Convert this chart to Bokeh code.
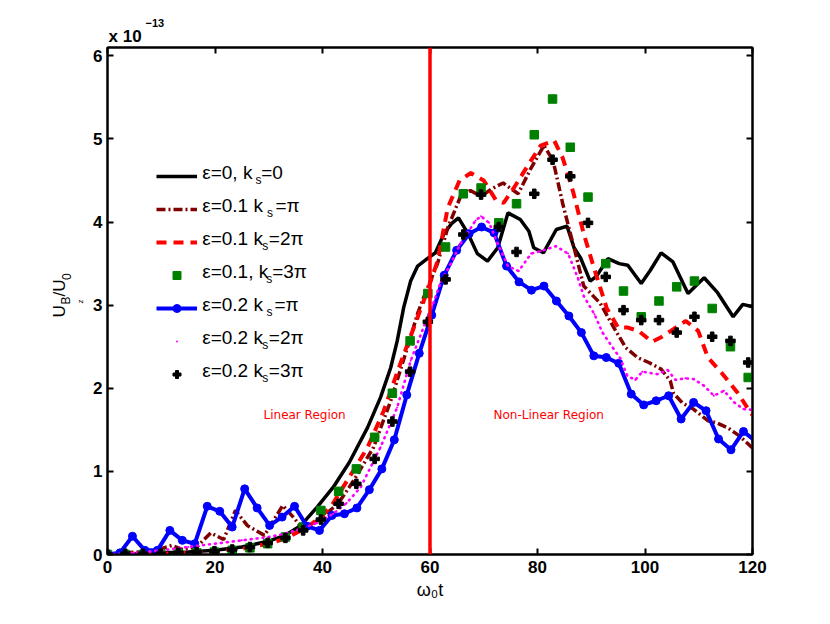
import math
from bokeh.plotting import figure
from bokeh.models import (Range1d, LinearAxis, FixedTicker, Span, Label, Legend,
                          LegendItem, CustomJSTickFormatter)
from bokeh.embed import file_html
from bokeh.resources import INLINE

# ---------------- data (values in units of 1e-13) ----------------
# eps=0, ks=0  (black solid)
t_e0 = [0, 5, 10, 15, 20, 25, 30, 33, 36, 39, 42, 45, 48.4, 50.8, 52.7, 53.9, 55.1,
        56.4, 57.7, 59.5, 61, 62.6, 64, 65.3, 67, 68.8, 70.7, 72.6, 74.5, 76.8, 78.4,
        79.3, 81.1, 83.5, 85.5, 86.8, 88, 89.8, 91, 93.1, 95.2, 96.8, 99.3, 101, 103,
        105.2, 108, 111, 113.5, 116.4, 118.2, 120]
u_e0 = [0, 0.01, 0.02, 0.03, 0.05, 0.09, 0.16, 0.23, 0.35, 0.57, 0.81, 1.11, 1.53, 1.89,
        2.25, 2.57, 2.97, 3.29, 3.47, 3.56, 3.63, 3.86, 3.98, 4.05, 3.87, 3.62, 3.53,
        3.69, 4.11, 4.03, 3.89, 3.69, 3.63, 3.91, 3.95, 3.69, 3.57, 3.29, 3.35, 3.56,
        3.50, 3.48, 3.26, 3.42, 3.63, 3.52, 3.14, 3.33, 3.15, 2.86, 3.01, 2.98]

# eps=0.1, ks=pi  (dark red dash-dot)
t_e01_k1 = [0, 3, 6, 9, 12, 14, 16.6, 19.2, 21.6, 23.8, 26, 29.2, 32.6, 34.7, 36, 38, 40,
            43, 45.8, 49.5, 52.7, 55.8, 57.7, 58.8, 61.4, 63.3, 65.7, 67.5, 69.5, 71.5,
            73.6, 76.4, 78.8, 81.2, 82.9, 84.7, 86.8, 88.6, 91.7, 94.2, 96.4, 98.6, 100.7,
            103, 104.7, 105.3, 107, 109, 111.7, 113.5, 115.5, 117.5, 119.2, 120]
u_e01_k1 = [0, 0.02, 0.03, 0.05, 0.11, 0.06, 0.09, 0.26, 0.18, 0.53, 0.35, 0.23, 0.59,
            0.44, 0.33, 0.36, 0.45, 0.62, 0.89, 1.29, 1.85, 2.49, 2.9, 3.09, 3.5, 3.93,
            4.31, 4.38, 4.31, 4.4, 4.47, 4.34, 4.65, 4.92, 4.74, 4.22, 3.69, 3.23, 3.02,
            2.73, 2.49, 2.37, 2.31, 2.23, 2.09, 1.94, 1.82, 1.75, 1.61, 1.58, 1.52, 1.43,
            1.33, 1.28]

# eps=0.1, ks=2pi  (red dashed)
t_e01_k2 = [0, 5, 10, 15, 20, 25, 30, 33, 36, 38, 40, 42, 44.6, 48.4, 51.4, 54.5, 57,
            59.5, 61.4, 63.3, 65.5, 67.6, 70, 72.3, 73.7, 75.6, 78.2, 80.6, 83.1, 84.7,
            86.6, 88.6, 90.5, 92.9, 95, 96.8, 98.8, 101.3, 102.9, 104.8, 107.6, 109.9,
            111.7, 114.2, 117.3, 119.7, 120]
u_e01_k2 = [0, 0.01, 0.01, 0.02, 0.04, 0.07, 0.13, 0.19, 0.29, 0.37, 0.47, 0.62, 0.89,
            1.29, 1.73, 2.3, 2.73, 3.17, 3.53, 4.17, 4.5, 4.59, 4.5, 4.26, 4.23, 4.41,
            4.68, 4.92, 4.98, 4.77, 4.37, 3.86, 3.45, 2.96, 2.73, 2.73, 2.69, 2.56, 2.61,
            2.69, 2.81, 2.69, 2.37, 2.19, 1.94, 1.70, 1.68]

# sample times of the marker-only series
t_markers = [0, 3.3, 6.6, 9.9, 13.2, 16.6, 19.9, 23.2, 26.5, 29.8, 33.1, 36.4, 39.7, 43.0,
             46.3, 49.7, 53.0, 56.3, 59.6, 62.9, 66.2, 69.5, 72.8, 76.1, 79.4, 82.8, 86.1,
             89.4, 92.7, 96.0, 99.3, 102.6, 105.9, 109.2, 112.5, 115.9, 119.2]
# eps=0.1, ks=3pi  (green squares)
u_e01_k3 = [0.0, 0.0, 0.0, 0.01, 0.01, 0.02, 0.03, 0.05, 0.08, 0.13, 0.21, 0.33, 0.53,
            0.76, 1.03, 1.41, 1.94, 2.57, 3.14, 3.70, 4.34, 4.41, 3.99, 4.22, 5.05, 5.48,
            4.90, 4.30, 3.50, 3.17, 2.86, 3.05, 3.22, 3.29, 2.96, 2.50, 2.13]
# eps=0.2, ks=3pi  (black plus markers)
u_e02_k3 = [0.0, 0.01, 0.01, 0.01, 0.02, 0.03, 0.04, 0.06, 0.09, 0.14, 0.20, 0.29, 0.42,
            0.61, 0.85, 1.15, 1.60, 2.20, 2.80, 3.31, 3.85, 4.33, 3.94, 3.64, 4.34, 4.75,
            4.55, 3.99, 3.34, 2.94, 2.82, 2.82, 2.67, 2.86, 2.62, 2.57, 2.31]

# eps=0.2, ks=pi  (blue line with circles)
t_e02_k1 = [0, 2.32, 4.64, 6.96, 9.28, 11.6, 13.92, 16.24, 18.56, 20.88, 23.2, 25.52,
            27.84, 30.16, 32.48, 34.8, 37.12, 39.44, 41.76, 44.08, 46.4, 48.72, 51.04,
            53.36, 55.68, 58.0, 60.32, 62.64, 64.96, 67.28, 69.6, 71.92, 74.24, 76.56,
            78.88, 81.2, 83.52, 85.84, 88.16, 90.48, 92.8, 95.12, 97.44, 99.76, 102.08,
            104.4, 106.72, 109.04, 111.36, 113.68, 116.0, 118.32, 120.64]
u_e02_k1 = [0.0, 0.02, 0.22, 0.05, 0.05, 0.29, 0.17, 0.13, 0.58, 0.52, 0.33, 0.79, 0.56,
            0.35, 0.45, 0.58, 0.34, 0.29, 0.47, 0.49, 0.56, 0.78, 1.03, 1.38, 1.92, 2.42,
            2.88, 3.36, 3.66, 3.86, 3.94, 3.87, 3.47, 3.28, 3.18, 3.23, 3.05, 2.87, 2.67,
            2.39, 2.37, 2.30, 1.93, 1.80, 1.85, 1.91, 1.63, 1.83, 1.73, 1.39, 1.26, 1.48,
            1.36]

# eps=0.2, ks=2pi  (magenta dots)
t_e02_k2 = [0, 5, 10, 15, 20, 25, 30, 33, 36, 39, 42, 44.5, 47.1, 50.8, 53.9, 56.4, 59.5,
            60.5, 62, 63.9, 65.5, 67, 68.5, 69.5, 71, 72.6, 74.5, 76.5, 78.8, 80.6, 83.4,
            85.7, 87.5, 88.6, 90.6, 92.1, 94, 95.4, 96.7, 98.2, 99.5, 102.3, 104.2, 105.7,
            107.5, 109.1, 111, 112.8, 114.7, 116.6, 118.3, 120]
u_e02_k2 = [0, 0.02, 0.05, 0.09, 0.13, 0.17, 0.21, 0.25, 0.31, 0.38, 0.49, 0.62, 0.81,
            1.29, 1.77, 2.33, 2.85, 3.0, 3.28, 3.5, 3.72, 3.87, 4.02, 4.07, 3.99, 3.74,
            3.47, 3.41, 3.62, 3.65, 3.71, 3.62, 3.33, 3.11, 2.89, 2.67, 2.49, 2.36, 2.15,
            2.1, 2.2, 2.17, 2.22, 2.1, 2.12, 2.11, 2.03, 1.91, 1.97, 1.83, 1.75, 1.74]

x_ticks = [0, 20, 40, 60, 80, 100, 120]
x_tick_labels = ["0", "20", "40", "60", "80", "100", "120"]
y_ticks = [0, 1, 2, 3, 4, 5, 6]
y_tick_labels = ["0", "1", "2", "3", "4", "5", "6"]
boundary_t = 60

legend_main = ["ε=0, k", "ε=0.1  k", "ε=0.1 k", "ε=0.1, k", "ε=0.2  k", "ε=0.2 k", "ε=0.2 k"]
legend_sub = ["s", "s", "s", "s", "s", "s", "s"]
legend_rest = ["=0", "=π", "=2π", "=3π", "=π", "=2π", "=3π"]

# ---------------- layout (page pixels of the frame) ----------------
W, H = 826, 620
FL, FR, FT, FB = 107, 752, 47, 554          # frame in page coordinates
XMIN, XMAX, YMIN, YMAX = 0, 120, 0, 6.1
TS = 4.5                                     # baseline correction for Label text


def dx(px):
    return XMIN + (px - FL) / (FR - FL) * (XMAX - XMIN)


def dy(py):
    return YMIN + (FB - py) / (FB - FT) * (YMAX - YMIN)


p = figure(width=W, height=H, output_backend="svg", toolbar_location=None,
           x_range=Range1d(XMIN, XMAX), y_range=Range1d(YMIN, YMAX),
           min_border_left=FL, min_border_right=W - FR,
           min_border_top=FT, min_border_bottom=H - FB)
p.grid.visible = False
p.outline_line_color = "black"
p.outline_line_width = 2
p.background_fill_color = "white"
p.border_fill_color = "white"

TICKFONT = "Liberation Sans"
for ax in (p.xaxis[0], p.yaxis[0]):
    ax.major_tick_in = 6
    ax.major_tick_out = 0
    ax.minor_tick_line_color = None
    ax.axis_line_width = 2
    ax.major_tick_line_width = 2
    ax.major_label_text_font = TICKFONT
    ax.major_label_text_font_style = "bold"
    ax.major_label_text_font_size = "17px"
    ax.major_label_text_color = "black"
p.xaxis.ticker = FixedTicker(ticks=x_ticks)
p.xaxis.major_label_overrides = {t: s for t, s in zip(x_ticks, x_tick_labels)}
p.xaxis.major_label_standoff = 6
p.xaxis.axis_label = "ω₀t"
p.xaxis.axis_label_text_font = TICKFONT
p.xaxis.axis_label_text_font_style = "normal"
p.xaxis.axis_label_text_font_size = "18px"
p.xaxis.axis_label_text_color = "black"
p.xaxis.axis_label_standoff = 4
p.yaxis.ticker = FixedTicker(ticks=y_ticks)
p.yaxis.major_label_overrides = {t: s for t, s in zip(y_ticks, y_tick_labels)}
p.yaxis.major_label_standoff = 5

blank = CustomJSTickFormatter(code="return ''")
for loc, ticks in (("above", x_ticks), ("right", y_ticks)):
    a = LinearAxis(ticker=FixedTicker(ticks=ticks), formatter=blank,
                   major_tick_in=6, major_tick_out=0, minor_tick_line_color=None,
                   axis_line_width=2, major_tick_line_width=2, major_label_standoff=0,
                   major_label_text_font_size="8px")
    p.add_layout(a, loc)

# ---------------- series ----------------
r1 = p.line(t_e0, u_e0, line_color="black", line_width=3.5)
r2 = p.line(t_e01_k1, u_e01_k1, line_color="#800000", line_width=3.5, line_dash="9 3 2 3")
r3 = p.line(t_e01_k2, u_e01_k2, line_color="#ff0000", line_width=4, line_dash="10 7")
r4 = p.scatter(t_markers, u_e01_k3, marker="square", size=8.5,
               fill_color="#008000", line_color="#008000")
r5l = p.line(t_e02_k1, u_e02_k1, line_color="#0000ff", line_width=4)
r5m = p.scatter(t_e02_k1, u_e02_k1, marker="circle", size=8,
                fill_color="#0000ff", line_color="#0000ff")
r6 = p.line(t_e02_k2, u_e02_k2, line_color="#ff00ff", line_width=2.6,
            line_dash="1 5", line_cap="round")
r6m = p.scatter(t_e02_k2, u_e02_k2, marker="dot", size=8, line_color="#ff00ff",
                fill_color="#ff00ff")
r7 = p.scatter(t_markers, u_e02_k3, marker="plus", size=9.5,
               fill_color="black", line_color="black")

p.add_layout(Span(location=boundary_t, dimension="height", line_color="#ff0000",
                  line_width=3.5))

# ---------------- legend ----------------
ROW0, PITCH, GH = 176, 33, 20
n = len(legend_main)
leg_h = n * GH + (n - 1) * (PITCH - GH)
legend = Legend(items=[LegendItem(label="", renderers=rs) for rs in
                       ([r1], [r2], [r3], [r4], [r5l, r5m], [r6m], [r7])],
                location=(156 - FL, FB - (ROW0 - GH / 2 + leg_h)),
                glyph_width=41, glyph_height=GH, label_height=GH,
                spacing=PITCH - GH, padding=0, margin=0, label_standoff=0,
                label_width=0, label_text_font_size="8px",
                border_line_color=None, background_fill_alpha=0)
p.add_layout(legend, "center")

sub_x = [255, 266.5, 261.7, 265.7, 266, 261.7, 261.7]
rest_x = [260.7, 275, 268.3, 271.7, 274, 268.3, 268.3]
for i in range(n):
    yb = ROW0 + PITCH * i - TS
    p.add_layout(Label(x=dx(201.7), y=dy(yb + 0.5), text=legend_main[i],
                       text_font="Liberation Sans", text_font_size="19px",
                       text_baseline="alphabetic", text_color="black"))
    p.add_layout(Label(x=dx(sub_x[i]), y=dy(yb + 7.5), text=legend_sub[i],
                       text_font="Liberation Sans", text_font_size="12px",
                       text_baseline="alphabetic", text_color="black"))
    p.add_layout(Label(x=dx(rest_x[i]), y=dy(yb + 0.5), text=legend_rest[i],
                       text_font="Liberation Sans", text_font_size="19px",
                       text_baseline="alphabetic", text_color="black"))

# ---------------- region texts ----------------
for txt, px in (("Linear Region", 263), ("Non-Linear Region", 493)):
    p.add_layout(Label(x=dx(px), y=dy(418.5 - TS), text=txt, text_font="DejaVu Sans",
                       text_font_size="12px", text_color="#ff0000",
                       text_baseline="alphabetic"))

# ---------------- exponent (side panel -> not clipped to the frame) ----------------
p.add_layout(Label(x=dx(108), y=dy(40 - TS), text="x 10", text_font="Liberation Sans",
                   text_font_style="bold", text_font_size="17px", text_color="black",
                   text_baseline="alphabetic"), "right")
p.add_layout(Label(x=dx(145), y=dy(27 - TS), text="−13", text_font="Liberation Sans",
                   text_font_style="bold", text_font_size="11px", text_color="black",
                   text_baseline="alphabetic"), "right")

# ---------------- y axis title ----------------
for txt, bx, sy, fs in (("U", 63, 317, "17px"), ("B", 70, 304, "12px"),
                        ("z", 84, 303, "8px"), ("/U", 63, 296, "17px"),
                        ("0", 70, 279.5, "12px")):
    p.add_layout(Label(x=dx(bx - TS), y=dy(sy), text=txt, angle=math.pi / 2,
                       text_font="Liberation Sans", text_font_size=fs,
                       text_color="black",
                       text_baseline="alphabetic", text_align="left"), "left")

open("out.html", "w").write(file_html(p, INLINE))
